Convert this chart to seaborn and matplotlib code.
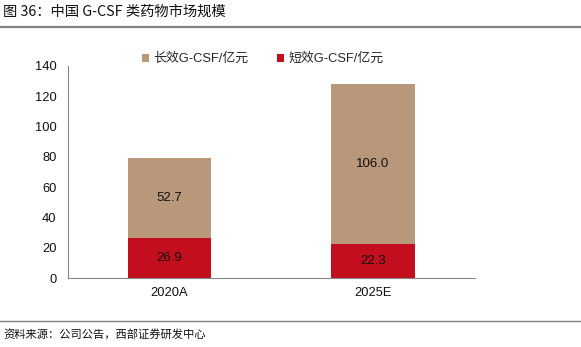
import matplotlib
matplotlib.use("Agg")
import matplotlib.pyplot as plt
from matplotlib.lines import Line2D
import seaborn as sns
import pandas as pd

categories = ["2020A", "2025E"]
long_acting = [52.7, 106.0]
short_acting = [26.9, 22.3]
series_names = ["长效G-CSF/亿元", "短效G-CSF/亿元"]
y_ticks = [0, 20, 40, 60, 80, 100, 120, 140]
title = "图 36：中国 G-CSF 类药物市场规模"
source = "资料来源：公司公告，西部证券研发中心"

sns.set_theme(style="white")
plt.rcParams['font.family'] = ['Liberation Sans', 'Noto Sans CJK SC', 'DejaVu Sans']

TAN = "#B9977A"
RED = "#C30F1D"

df = pd.DataFrame({
    "cat": categories,
    "long": long_acting,
    "short": short_acting,
})
df["total"] = df["long"] + df["short"]

fig = plt.figure(figsize=(5.81, 3.47), dpi=100)
ax = fig.add_axes([67.5/581, 1-278.3/347, (474.7-67.5)/581, (278.3-66)/347])

sns.barplot(data=df, x="cat", y="total", color=TAN, width=0.41, ax=ax,
            saturation=1, label=series_names[0], linewidth=0)
sns.barplot(data=df, x="cat", y="short", color=RED, width=0.41, ax=ax,
            saturation=1, label=series_names[1], linewidth=0)

for i, (l, s) in enumerate(zip(long_acting, short_acting)):
    ax.text(i, s/2, f"{s:.1f}", ha="center", va="center", fontsize=9.5, color="#111111")
    ax.text(i, s + l/2, f"{l:.1f}", ha="center", va="center", fontsize=9.5, color="#111111")

ax.set_ylim(0, 140)
ax.set_xlim(-0.5, 1.5)
ax.set_yticks(y_ticks)
ax.set_yticklabels([str(v) for v in y_ticks], fontsize=9.3, color="#111111")
ax.set_xticks([-0.5, 0.5, 1.5])
ax.set_xticklabels([])
ax.set_xticks([0, 1], minor=True)
ax.set_xticklabels(categories, minor=True, fontsize=9.3, color="#111111")
ax.tick_params(axis="x", which="minor", length=0, pad=6)
ax.tick_params(axis="x", which="major", length=4, width=0.8, color="#888888", direction="out")
ax.tick_params(axis="y", length=4, width=0.8, color="#888888", direction="out", pad=4)
ax.set_xlabel("")
ax.set_ylabel("")
for sp in ["top", "right"]:
    ax.spines[sp].set_visible(False)
for sp in ["left", "bottom"]:
    ax.spines[sp].set_color("#888888")
    ax.spines[sp].set_linewidth(0.8)
ax.grid(False)

leg = ax.get_legend()
if leg is not None:
    leg.remove()
handles, labels = ax.get_legend_handles_labels()
fig.legend(handles, labels, loc="center", bbox_to_anchor=(262.5/581, 1-59/347),
           ncol=2, frameon=False, fontsize=9.3, handlelength=0.6, handleheight=0.6,
           handletextpad=0.3, columnspacing=2.2)

fig.text(3/581, 1-12/347, title, fontsize=10.3, va="center", ha="left",
         family=['Noto Sans CJK SC', 'DejaVu Sans'], color="#111111")
fig.text(3/581, 1-335/347, source, fontsize=8.1, va="center", ha="left",
         family=['Noto Sans CJK SC', 'DejaVu Sans'], color="#111111")
fig.add_artist(Line2D([0, 1], [1-27/347, 1-27/347], color="#808080", linewidth=1.6))
fig.add_artist(Line2D([0, 1], [1-321/347, 1-321/347], color="#808080", linewidth=1.0))

fig.savefig("out.png", dpi=100)
